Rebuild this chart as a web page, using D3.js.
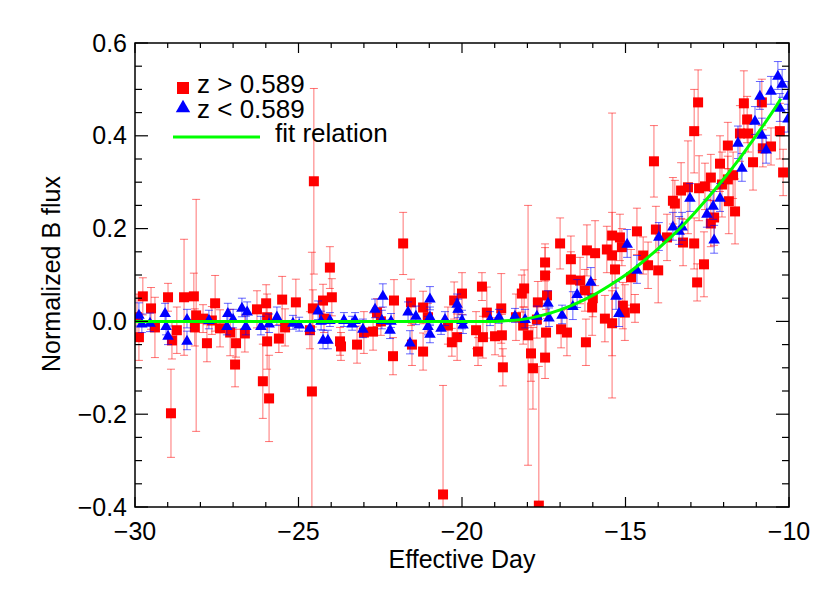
<!DOCTYPE html>
<html><head><meta charset="utf-8">
<script src="https://cdn.jsdelivr.net/npm/d3@7"></script>
<style>body{margin:0;background:#fff}svg{display:block}text{font-family:"Liberation Sans",Arial,Helvetica,sans-serif;fill:#000}</style>
</head><body><svg id="c" width="830" height="593"></svg>
<script>
const xTicks=[-30,-25,-20,-15,-10];
const yTicks=[-0.4,-0.2,0.0,0.2,0.4,0.6];
const legendLabels=["z > 0.589","z < 0.589","fit relation"];
const xTitle="Effective Day", yTitle="Normalized B flux";

const redDay=[-29.94,-29.88,-29.76,-29.51,-29.39,-28.99,-28.9,-28.87,-28.72,-28.5,-28.2,-28.13,-28.17,-27.92,-27.8,-27.65,-27.55,-27.4,-27.09,-26.91,-26.94,-26.64,-26.27,-25.99,-25.96,-25.96,-26.09,-25.9,-25.6,-25.5,-25.41,-25.08,-24.65,-24.56,-24.53,-24.59,-24.25,-24.22,-24.04,-23.98,-23.73,-23.7,-23.21,-23.0,-22.72,-22.6,-22.48,-22.11,-22.08,-21.8,-21.56,-21.53,-21.19,-21.19,-21.04,-20.58,-20.43,-20.31,-20.15,-20.24,-20.0,-19.39,-19.24,-19.57,-19.36,-19.51,-18.8,-18.99,-18.78,-18.75,-18.17,-18.1,-18.35,-18.13,-17.98,-17.89,-17.83,-17.68,-17.71,-17.46,-17.46,-17.4,-17.43,-17.46,-17.65,-17.0,-16.97,-16.79,-16.67,-16.67,-16.39,-16.24,-16.18,-16.0,-16.02,-16.21,-15.93,-15.63,-15.57,-15.41,-15.41,-15.41,-15.32,-15.17,-15.11,-15.08,-15.02,-14.83,-14.71,-14.65,-14.46,-14.31,-14.13,-14.0,-14.07,-13.73,-13.55,-13.49,-13.3,-13.24,-13.09,-12.9,-12.9,-12.78,-12.81,-12.75,-12.6,-12.57,-12.39,-12.39,-12.29,-12.11,-12.05,-11.87,-11.87,-11.84,-11.71,-11.65,-11.5,-11.38,-11.28,-11.25,-11.1,-10.83,-10.8,-10.55,-10.28,-10.18];
const redVal=[0.009,-0.034,0.054,0.028,-0.013,0.052,-0.198,-0.041,-0.019,0.052,0.054,0.013,-0.013,0.006,-0.047,0.002,0.039,-0.015,-0.024,-0.047,-0.093,-0.026,0.026,0.039,0.009,-0.043,-0.129,-0.166,-0.037,0.047,-0.013,0.041,-0.019,0.028,0.302,-0.151,0.045,0.006,0.116,0.052,-0.043,-0.054,-0.05,-0.024,-0.022,0.019,0.0,-0.075,0.045,0.168,0.041,-0.05,0.03,-0.065,0.009,-0.373,-0.009,-0.045,-0.034,0.045,0.06,0.075,0.019,-0.019,-0.034,-0.065,0.028,-0.032,-0.03,-0.099,0.06,0.071,0.009,-0.009,-0.03,-0.069,-0.101,0.041,0.004,0.127,0.099,0.056,-0.024,-0.078,-0.397,0.168,-0.017,-0.024,0.134,0.09,0.088,0.067,0.153,0.05,0.03,-0.045,0.147,0.006,0.155,0.142,0.185,-0.004,0.112,0.181,0.16,0.034,0.019,0.095,0.028,0.194,0.142,0.121,0.345,0.11,0.198,0.181,0.26,0.254,0.282,0.17,0.289,0.168,0.41,0.472,0.084,0.287,0.123,0.291,0.31,0.211,0.224,0.34,0.295,0.306,0.379,0.259,0.315,0.237,0.405,0.47,0.435,0.405,0.343,0.472,0.373,0.377,0.41,0.321];
const redErr=[0.05,0.05,0.04,0.045,0.065,0.03,0.095,0.04,0.05,0.125,0.05,0.25,0.04,0.03,0.04,0.03,0.06,0.04,0.05,0.03,0.048,0.04,0.04,0.04,0.05,0.06,0.08,0.093,0.03,0.05,0.04,0.05,0.04,0.04,0.2,0.3,0.035,0.03,0.045,0.04,0.03,0.03,0.04,0.045,0.04,0.03,0.03,0.04,0.045,0.067,0.05,0.045,0.035,0.04,0.03,0.235,0.04,0.03,0.05,0.04,0.045,0.03,0.055,0.04,0.045,0.03,0.075,0.04,0.045,0.04,0.04,0.04,0.05,0.04,0.28,0.06,0.088,0.045,0.04,0.04,0.06,0.05,0.05,0.045,0.3,0.055,0.04,0.05,0.05,0.06,0.05,0.045,0.055,0.04,0.06,0.05,0.07,0.05,0.05,0.307,0.05,0.07,0.04,0.05,0.04,0.05,0.06,0.06,0.03,0.05,0.04,0.05,0.077,0.07,0.05,0.05,0.05,0.05,0.06,0.05,0.1,0.055,0.09,0.07,0.04,0.07,0.07,0.05,0.05,0.05,0.06,0.06,0.07,0.05,0.05,0.07,0.05,0.07,0.06,0.07,0.05,0.04,0.06,0.05,0.04,0.04,0.06,0.05];

const blueDay=[-29.88,-29.79,-29.54,-29.08,-29.05,-28.99,-28.41,-28.41,-27.74,-27.19,-27.16,-27.0,-26.73,-26.57,-26.61,-26.15,-25.9,-25.66,-25.17,-24.98,-24.65,-24.4,-24.31,-24.25,-24.1,-24.04,-23.61,-23.36,-23.27,-23.03,-22.66,-22.42,-22.45,-22.2,-22.17,-21.65,-21.59,-21.41,-20.98,-20.98,-21.04,-20.98,-20.64,-20.52,-20.15,-20.12,-20.0,-19.97,-19.14,-18.87,-18.38,-18.07,-17.71,-17.37,-17.34,-16.94,-16.61,-16.48,-16.06,-15.29,-15.2,-14.95,-14.65,-13.98,-13.55,-13.36,-13.27,-13.03,-12.51,-12.32,-12.11,-12.29,-11.56,-11.44,-11.04,-10.89,-10.83,-10.7,-10.55,-10.34,-10.21,-10.28,-10.03,-10.03];
const blueVal=[0.015,-0.004,-0.002,0.019,-0.009,-0.03,0.006,-0.041,0.004,-0.009,0.019,0.006,0.03,0.022,-0.009,-0.009,-0.004,0.011,-0.002,-0.006,-0.013,0.024,0.002,-0.039,-0.039,0.004,0.004,-0.004,0.004,-0.015,0.028,0.056,0.004,-0.017,0.002,0.022,-0.045,0.013,0.05,0.011,-0.009,-0.026,-0.013,0.006,0.039,0.028,0.004,-0.006,0.006,0.011,0.013,0.006,0.013,0.041,0.009,0.015,0.034,0.06,0.086,0.056,0.019,0.168,0.112,0.183,0.205,0.196,0.205,0.267,0.233,0.25,0.267,0.177,0.386,0.332,0.433,0.487,0.403,0.371,0.498,0.53,0.513,0.461,0.487,0.438];
const blueErr=[0.025,0.02,0.02,0.02,0.02,0.02,0.02,0.02,0.02,0.02,0.02,0.02,0.02,0.02,0.02,0.02,0.02,0.02,0.015,0.015,0.015,0.02,0.02,0.02,0.02,0.015,0.015,0.015,0.015,0.02,0.02,0.025,0.02,0.02,0.015,0.02,0.025,0.02,0.025,0.02,0.02,0.02,0.015,0.015,0.02,0.02,0.02,0.02,0.015,0.015,0.015,0.02,0.02,0.025,0.02,0.02,0.03,0.03,0.03,0.03,0.03,0.03,0.03,0.03,0.03,0.03,0.03,0.03,0.03,0.03,0.03,0.03,0.035,0.03,0.03,0.03,0.035,0.03,0.03,0.03,0.03,0.03,0.03,0.03];

const fitDay=[-30,-19,-18.5,-18,-17.5,-17,-16.5,-16,-15.5,-15,-14.5,-14,-13.5,-13,-12.5,-12,-11.5,-11,-10.5,-10.25];
const fitVal=[0,0,0.002,0.006,0.014,0.025,0.039,0.056,0.077,0.1,0.127,0.157,0.189,0.225,0.265,0.307,0.352,0.401,0.452,0.48];

const L=135,R=789,T=43,B=507;
const svg=d3.select("#c");
const x=d3.scaleLinear().domain([-30,-10]).range([L,R]);
const y=d3.scaleLinear().domain([-0.4,0.6]).range([B,T]);

svg.append("defs").append("clipPath").attr("id","pc").append("rect")
  .attr("x",L).attr("y",T).attr("width",R-L).attr("height",B-T);
const plot=svg.append("g").attr("clip-path","url(#pc)");

function errBars(days,vals,errs,color,op,cap){
  const g=plot.append("g").attr("stroke",color).attr("stroke-opacity",op).attr("stroke-width",1).attr("fill","none");
  days.forEach((d,i)=>{
    const cx=x(d), y1=y(vals[i]+errs[i]), y2=y(vals[i]-errs[i]);
    g.append("line").attr("x1",cx).attr("x2",cx).attr("y1",y1).attr("y2",y2);
    g.append("line").attr("x1",cx-cap).attr("x2",cx+cap).attr("y1",y1).attr("y2",y1);
    g.append("line").attr("x1",cx-cap).attr("x2",cx+cap).attr("y1",y2).attr("y2",y2);
  });
}
errBars(redDay,redVal,redErr,"#ff0000",0.55,4);
const sq=10;
plot.append("g").selectAll("rect").data(redDay).join("rect")
  .attr("x",(d)=>x(d)-sq/2).attr("y",(d,i)=>y(redVal[i])-sq/2)
  .attr("width",sq).attr("height",sq).attr("fill","#ff0000");
errBars(blueDay,blueVal,blueErr,"#0000ff",0.6,4);
const tri=d3.symbol().type(d3.symbolTriangle).size(58);
plot.append("g").selectAll("path").data(blueDay).join("path")
  .attr("d",tri).attr("transform",(d,i)=>`translate(${x(d)},${y(blueVal[i])+1})`).attr("fill","#0000ff");

const line=d3.line().x((d,i)=>x(d)).y((d,i)=>y(fitVal[i])).curve(d3.curveMonotoneX);
plot.append("path").attr("d",line(fitDay)).attr("fill","none").attr("stroke","#00ff00").attr("stroke-width",3);

// axes
const ax=svg.append("g").attr("stroke","#000").attr("stroke-width",1.2);
const xMinor=d3.range(-30,-9.5,1), yMinor=d3.range(-0.4,0.601,0.05);
xMinor.forEach(v=>{
  const major=xTicks.some(t=>Math.abs(t-v)<1e-6), len=major?10:5;
  ax.append("line").attr("x1",x(v)).attr("x2",x(v)).attr("y1",B).attr("y2",B-len);
  ax.append("line").attr("x1",x(v)).attr("x2",x(v)).attr("y1",T).attr("y2",T+len);
});
yMinor.forEach(v=>{
  const major=yTicks.some(t=>Math.abs(t-v)<1e-6), len=major?13:7;
  ax.append("line").attr("x1",L).attr("x2",L+len).attr("y1",y(v)).attr("y2",y(v));
  ax.append("line").attr("x1",R).attr("x2",R-len).attr("y1",y(v)).attr("y2",y(v));
});
svg.append("rect").attr("x",L).attr("y",T).attr("width",R-L).attr("height",B-T)
  .attr("fill","none").attr("stroke","#000").attr("stroke-width",1.5);

const fmtX=v=>(v<0?"\u2212":"")+Math.abs(v);
const fmtY=v=>(v<0?"\u2212":"")+Math.abs(v).toFixed(1);
svg.append("g").selectAll("text").data(xTicks).join("text")
  .attr("x",d=>x(d)).attr("y",540).attr("text-anchor","middle").attr("font-size",25).text(fmtX);
svg.append("g").selectAll("text").data(yTicks).join("text")
  .attr("x",127).attr("y",d=>y(d)).attr("dy","0.34em").attr("text-anchor","end").attr("font-size",25).text(fmtY);

svg.append("text").attr("x",462).attr("y",568).attr("text-anchor","middle").attr("font-size",25).text(xTitle);
svg.append("text").attr("transform","translate(60,274) rotate(-90)").attr("text-anchor","middle").attr("font-size",25).text(yTitle);

// legend
const lg=svg.append("g");
lg.append("rect").attr("x",177).attr("y",82).attr("width",12).attr("height",12).attr("fill","#ff0000");
lg.append("path").attr("d",d3.symbol().type(d3.symbolTriangle).size(90)).attr("transform","translate(183,108)").attr("fill","#0000ff");
lg.append("line").attr("x1",173).attr("x2",260).attr("y1",137).attr("y2",137).attr("stroke","#00ff00").attr("stroke-width",3);
lg.append("text").attr("x",197).attr("y",93).attr("font-size",26).text(legendLabels[0]);
lg.append("text").attr("x",197).attr("y",118).attr("font-size",26).text(legendLabels[1]);
lg.append("text").attr("x",275).attr("y",142).attr("font-size",26).text(legendLabels[2]);
</script></body></html>
